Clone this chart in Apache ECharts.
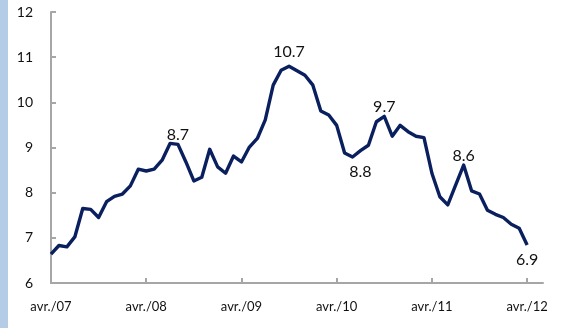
<!DOCTYPE html>
<html><head><meta charset="utf-8">
<script src="https://cdn.jsdelivr.net/npm/echarts@6/dist/echarts.min.js"></script>
<style>html,body{margin:0;padding:0;background:#fff}#c{width:563px;height:328px}</style>
</head><body><div id="c"></div>
<script>
const monthNames = ['janv.','févr.','mars','avr.','mai','juin','juil.','août','sept.','oct.','nov.','déc.'];
const startYear = 2007, startMonth = 3; // avr. 2007
const categoryCount = 63; // avr./07 .. juin/12
const values = [
  6.64, 6.83, 6.80, 7.02, 7.65, 7.63, 7.45, 7.80, 7.92, 7.97,
  8.15, 8.52, 8.48, 8.52, 8.72, 9.09, 9.07, 8.68, 8.26, 8.34,
  8.96, 8.57, 8.43, 8.81, 8.68, 9.01, 9.20, 9.61, 10.38, 10.71,
  10.80, 10.70, 10.60, 10.38, 9.81, 9.72, 9.49, 8.88, 8.79, 8.93,
  9.05, 9.57, 9.69, 9.25, 9.49, 9.35, 9.25, 9.22, 8.43, 7.91,
  7.73, 8.17, 8.61, 8.04, 7.97, 7.61, 7.52, 7.45, 7.30, 7.21,
  6.84
];
const annotations = [
  {index: 16, text: '8.7', position: 'top'},
  {index: 30, text: '10.7', position: 'top'},
  {index: 39, text: '8.8', position: 'bottom'},
  {index: 42, text: '9.7', position: 'top'},
  {index: 52, text: '8.6', position: 'top'},
  {index: 60, text: '6.9', position: 'bottom'}
];
const yTicks = {min: 6, max: 12, interval: 1};

// label placement tweaks (pixels), kept apart from the data
const labelStyle = {
  top: {distance: 1},
  bottom: {distance: 7},
  offsets: {'10.7': [0, -5], '8.8': [0, 6]}
};

const categories = [];
for (let k = 0; k < categoryCount; k++) {
  const m = (startMonth + k) % 12;
  const y = startYear + Math.floor((startMonth + k) / 12);
  categories.push(monthNames[m] + '/' + String(y % 100).padStart(2, '0'));
}
const seriesData = values.map((v, i) => {
  const a = annotations.find(o => o.index === i);
  if (!a) return v;
  return {value: v, label: {show: true, formatter: a.text, position: a.position,
    distance: labelStyle[a.position].distance, offset: labelStyle.offsets[a.text] || [0, 0],
    fontFamily: 'Lato', fontSize: 16, color: '#111'}};
});

const chart = echarts.init(document.getElementById('c'), null, {renderer: 'canvas'});
chart.setOption({
  animation: false,
  backgroundColor: '#fff',
  graphic: [{type: 'rect', left: 0, top: 0, shape: {width: 8, height: 328}, style: {fill: '#b4cce6'}}],
  grid: {left: 51, top: 12, width: 492, height: 271, containLabel: false},
  xAxis: {
    type: 'category', data: categories, boundaryGap: false,
    axisLine: {lineStyle: {color: '#a6a6a6', width: 2}},
    axisTick: {inside: true, length: 5, interval: 11, lineStyle: {color: '#a6a6a6', width: 2}},
    axisLabel: {interval: 11, fontFamily: 'Lato', fontSize: 13, color: '#111', margin: 17}
  },
  yAxis: {
    type: 'value', min: yTicks.min, max: yTicks.max, interval: yTicks.interval,
    axisLine: {show: true, lineStyle: {color: '#a6a6a6', width: 2}},
    axisTick: {show: true, inside: true, length: 5, lineStyle: {color: '#a6a6a6', width: 2}},
    splitLine: {show: false},
    axisLabel: {fontFamily: 'Lato', fontSize: 14, color: '#111', margin: 18}
  },
  series: [{
    type: 'line', data: seriesData, symbol: 'circle', symbolSize: 0.1, showSymbol: true,
    smooth: false,
    lineStyle: {color: '#0a1f5e', width: 3.4, join: 'round'},
    itemStyle: {color: '#0a1f5e'}
  }]
});
</script></body></html>
